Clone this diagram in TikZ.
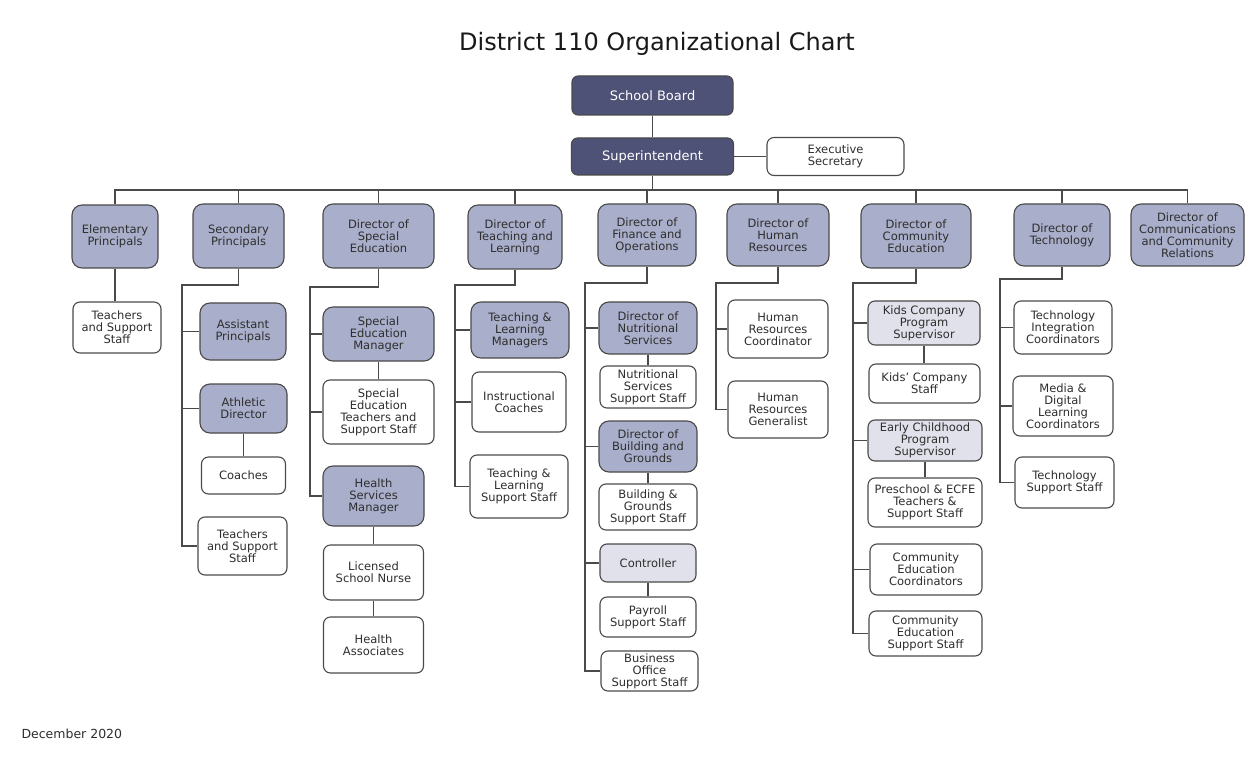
\documentclass[tikz,border=0pt]{standalone}
\usepackage{fontspec}
\setmainfont{DejaVu Sans}
\usepackage{xcolor}
\definecolor{boardfill}{HTML}{4F5277}
\definecolor{dirfill}{HTML}{A9AECA}
\definecolor{subfill}{HTML}{E0E1EA}
\definecolor{boxline}{HTML}{4A4A4A}
\definecolor{boxtext}{HTML}{2E2E2E}
\definecolor{linecol}{HTML}{4A4A4A}

\begin{document}
\begin{tikzpicture}[x=1pt,y=-1pt,
    box/.style={draw=boxline,line width=1.1pt,rounded corners=7pt,fill=white,align=center,inner sep=1pt,
      text=boxtext,font=\fontsize{11.5}{12}\selectfont},
    dark/.style={box,fill=boardfill,text=white,rounded corners=6pt,font=\fontsize{13}{14}\selectfont},
    dir/.style={box,fill=dirfill,rounded corners=10pt},
    sub/.style={box,fill=subfill},
    link/.style={draw=linecol,line width=1.3pt}]
    \fill[white] (0,0) rectangle (1250,759);
    \useasboundingbox (0,0) rectangle (1250,759);
    \node[text=black!90,font=\fontsize{24}{28}\selectfont] (title) at (657,44) {District 110 Organizational Chart};
    \node[dark,minimum width=161,minimum height=39] (sb) at (652.5,95.5) {School Board};
    \node[dark,minimum width=162,minimum height=37] (sup) at (652.5,156.5) {Superintendent};
    \node[box,minimum width=137,minimum height=38] (exs) at (835.5,156.5) {Executive\\Secretary};
    \node[dir,minimum width=86,minimum height=63] (elem) at (115,236.5) {Elementary\\Principals};
    \node[dir,minimum width=91,minimum height=64] (secp) at (238.5,236) {Secondary\\Principals};
    \node[dir,minimum width=111,minimum height=64] (dse) at (378.5,236) {Director of\\Special\\Education};
    \node[dir,minimum width=94,minimum height=64] (dtl) at (515,237) {Director of\\Teaching and\\Learning};
    \node[dir,minimum width=98,minimum height=62] (dfo) at (647,235) {Director of\\Finance and\\Operations};
    \node[dir,minimum width=102,minimum height=62] (dhr) at (778,235) {Director of\\Human\\Resources};
    \node[dir,minimum width=110,minimum height=64] (dce) at (916,236) {Director of\\Community\\Education};
    \node[dir,minimum width=96,minimum height=62] (dtech) at (1062,235) {Director of\\Technology};
    \node[dir,minimum width=113,minimum height=62] (dccr) at (1187.5,235) {Director of\\Communications\\and Community\\Relations};
    \node[box,minimum width=88,minimum height=51] (tse) at (117,327.5) {Teachers\\and Support\\Staff};
    \node[dir,minimum width=86,minimum height=57] (asp) at (243,331.5) {Assistant\\Principals};
    \node[dir,minimum width=87,minimum height=49] (ath) at (243.5,408.5) {Athletic\\Director};
    \node[box,minimum width=84,minimum height=37] (coach) at (243.5,475.5) {Coaches};
    \node[box,minimum width=89,minimum height=58] (tss) at (242.5,546) {Teachers\\and Support\\Staff};
    \node[dir,minimum width=111,minimum height=54] (sem) at (378.5,334) {Special\\Education\\Manager};
    \node[box,minimum width=111,minimum height=64] (set) at (378.5,412) {Special\\Education\\Teachers and\\Support Staff};
    \node[dir,minimum width=101,minimum height=60] (hsm) at (373.5,496) {Health\\Services\\Manager};
    \node[box,minimum width=100,minimum height=55] (lsn) at (373.5,572.5) {Licensed\\School Nurse};
    \node[box,minimum width=100,minimum height=56] (ha) at (373.5,645) {Health\\Associates};
    \node[dir,minimum width=98,minimum height=56] (tlm) at (520,330) {Teaching \&\\Learning\\Managers};
    \node[box,minimum width=94,minimum height=60] (ic) at (519,402) {Instructional\\Coaches};
    \node[box,minimum width=98,minimum height=63] (tls) at (519,486.5) {Teaching \&\\Learning\\Support Staff};
    \node[dir,minimum width=98,minimum height=52] (dns) at (648,328) {Director of\\Nutritional\\Services};
    \node[box,minimum width=96,minimum height=42] (nss) at (648,387) {Nutritional\\Services\\Support Staff};
    \node[dir,minimum width=98,minimum height=51] (dbg) at (648,446.5) {Director of\\Building and\\Grounds};
    \node[box,minimum width=98,minimum height=46] (bgs) at (648,507) {Building \&\\Grounds\\Support Staff};
    \node[sub,minimum width=96,minimum height=38] (ctl) at (648,563) {Controller};
    \node[box,minimum width=96,minimum height=40] (pss) at (648,617) {Payroll\\Support Staff};
    \node[box,minimum width=97,minimum height=40] (bos) at (649.5,671) {Business\\Office\\Support Staff};
    \node[box,minimum width=100,minimum height=58] (hrc) at (778,329) {Human\\Resources\\Coordinator};
    \node[box,minimum width=100,minimum height=57] (hrg) at (778,409.5) {Human\\Resources\\Generalist};
    \node[sub,minimum width=112,minimum height=44] (kcs) at (924,323) {Kids Company\\Program\\Supervisor};
    \node[box,minimum width=111,minimum height=39] (kst) at (924.5,383.5) {Kids' Company\\Staff};
    \node[sub,minimum width=114,minimum height=41] (ecs) at (925,440.5) {Early Childhood\\Program\\Supervisor};
    \node[box,minimum width=114,minimum height=49] (pre) at (925,502.5) {Preschool \& ECFE\\Teachers \&\\Support Staff};
    \node[box,minimum width=112,minimum height=51] (cec) at (926,569.5) {Community\\Education\\Coordinators};
    \node[box,minimum width=113,minimum height=45] (ces) at (925.5,633.5) {Community\\Education\\Support Staff};
    \node[box,minimum width=98,minimum height=53] (tic) at (1063,327.5) {Technology\\Integration\\Coordinators};
    \node[box,minimum width=100,minimum height=60] (mdl) at (1063,406) {Media \&\\Digital\\Learning\\Coordinators};
    \node[box,minimum width=99,minimum height=51] (tss2) at (1064.5,482.5) {Technology\\Support Staff};
    \node[anchor=west,text=boxtext,font=\fontsize{12.5}{14}\selectfont] (date) at (18,734) {December 2020};
    \coordinate (bus) at (652,190);
    \draw[link] (sb.south) -- (sb.south |- sup.north);
    \draw[link] (sup.east) -- (exs.west);
    \draw[link] (sup.south) -- (sup.south |- bus);
    \draw[link] (elem.north) |- (bus) -| (dccr.north);
    \foreach \n in {secp,dse,dtl,dfo,dhr,dce,dtech}
      \draw[link] (\n.north) -- (\n.north |- bus);
    \draw[link] (elem.south) -- (elem.south |- tse.north);
    \coordinate (secj) at (182,285);
    \draw[link] (secp.south) |- (secj) |- (tss.west);
    \foreach \n in {asp,ath}
      \draw[link] (secj |- \n.west) -- (\n.west);
    \draw[link] (ath.south) -- (ath.south |- coach.north);
    \coordinate (dsej) at (310,287);
    \draw[link] (dse.south) |- (dsej) |- (hsm.west);
    \foreach \n in {sem,set}
      \draw[link] (dsej |- \n.west) -- (\n.west);
    \draw[link] (sem.south) -- (sem.south |- set.north);
    \draw[link] (hsm.south) -- (hsm.south |- lsn.north);
    \draw[link] (lsn.south) -- (lsn.south |- ha.north);
    \coordinate (dtlj) at (455,285);
    \draw[link] (dtl.south) |- (dtlj) |- (tls.west);
    \foreach \n in {tlm,ic}
      \draw[link] (dtlj |- \n.west) -- (\n.west);
    \coordinate (dfoj) at (585,283);
    \draw[link] (dfo.south) |- (dfoj) |- (bos.west);
    \foreach \n in {dns,dbg,ctl}
      \draw[link] (dfoj |- \n.west) -- (\n.west);
    \draw[link] (dns.south) -- (dns.south |- nss.north);
    \draw[link] (dbg.south) -- (dbg.south |- bgs.north);
    \draw[link] (ctl.south) -- (ctl.south |- pss.north);
    \coordinate (dhrj) at (716,283);
    \draw[link] (dhr.south) |- (dhrj) |- (hrg.west);
    \draw[link] (dhrj |- hrc.west) -- (hrc.west);
    \coordinate (dcej) at (853,283);
    \draw[link] (dce.south) |- (dcej) |- (ces.west);
    \foreach \n in {kcs,ecs,cec}
      \draw[link] (dcej |- \n.west) -- (\n.west);
    \draw[link] (kcs.south) -- (kcs.south |- kst.north);
    \draw[link] (ecs.south) -- (ecs.south |- pre.north);
    \coordinate (dtechj) at (1000,279);
    \draw[link] (dtech.south) |- (dtechj) |- (tss2.west);
    \foreach \n in {tic,mdl}
      \draw[link] (dtechj |- \n.west) -- (\n.west);
\end{tikzpicture}
\end{document}
